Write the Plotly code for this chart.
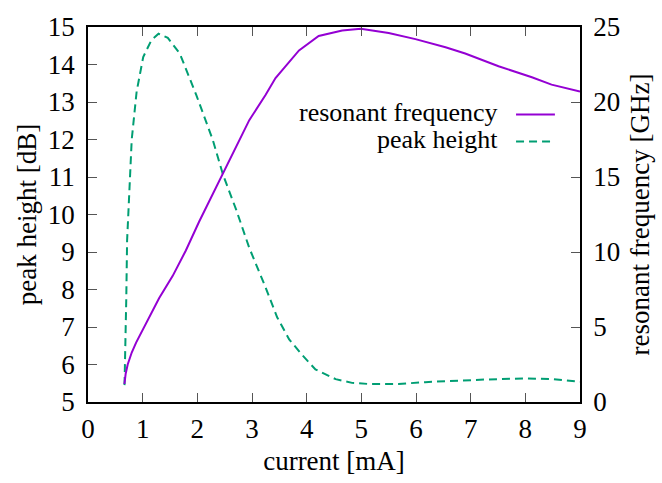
import plotly.graph_objects as go

# peak height [dB] vs current [mA]
ph_current = [0.668, 0.69, 0.70, 0.715, 0.75, 0.80, 0.89, 1.01, 1.16, 1.29, 1.46, 1.68,
              1.98, 2.28, 2.47, 2.71, 2.95, 3.13, 3.25, 3.46, 3.68, 3.92, 4.16, 4.53,
              4.83, 5.14, 5.68, 6.17, 6.66, 7.27, 8.0, 8.48, 9.0]
ph_db = [5.45, 6.8, 7.75, 9.3, 10.4, 12.0, 13.28, 14.2, 14.65, 14.82, 14.71, 14.29,
         13.19, 12.0, 11.06, 10.13, 9.11, 8.5, 8.05, 7.26, 6.67, 6.25, 5.87, 5.61,
         5.51, 5.48, 5.48, 5.53, 5.57, 5.60, 5.63, 5.61, 5.54]

# resonant frequency [GHz] vs current [mA]
rf_current = [0.666, 0.69, 0.726, 0.80, 0.88, 1.06, 1.30, 1.55, 1.79, 2.03, 2.46, 2.95,
              3.25, 3.43, 3.86, 4.22, 4.65, 4.99, 5.50, 5.99, 6.54, 6.90, 7.51, 8.12,
              8.48, 9.0]
rf_ghz = [1.2, 1.9, 2.5, 3.3, 3.96, 5.23, 6.92, 8.41, 10.1, 12.0, 15.18, 18.79,
          20.48, 21.6, 23.44, 24.40, 24.76, 24.89, 24.6, 24.19, 23.65, 23.23, 22.38, 21.65,
          21.16, 20.69]

x_ticks = list(range(0, 10))
y_ticks = list(range(5, 16))
y2_ticks = [0, 5, 10, 15, 20, 25]

PURPLE = "#9400D3"
GREEN = "#009E73"
FONT = "Liberation Serif"
FS = 27

fig = go.Figure()
fig.add_trace(go.Scatter(x=ph_current, y=ph_db, mode="lines", yaxis="y",
                         line=dict(color=GREEN, width=2, dash="8px,5px"),
                         name="peak height", showlegend=False))
fig.add_trace(go.Scatter(x=rf_current, y=rf_ghz, mode="lines", yaxis="y2",
                         line=dict(color=PURPLE, width=2),
                         name="resonant frequency", showlegend=False))

axis_common = dict(showgrid=False, zeroline=False, showline=True, linecolor="black",
                   linewidth=1.5, ticks="inside", ticklen=9, tickwidth=1.2,
                   tickcolor="#555555", tickfont=dict(family=FONT, size=FS, color="black"))

fig.update_layout(
    width=662, height=483,
    margin=dict(l=88, r=80, t=16, b=75),
    paper_bgcolor="white", plot_bgcolor="white",
    font=dict(family=FONT, size=FS, color="black"),
    xaxis=dict(range=[0, 9], tickvals=x_ticks, mirror="ticks",
               title=dict(text="current [mA]", font=dict(family=FONT, size=FS), standoff=8),
               ticklabelstandoff=2, **axis_common),
    yaxis=dict(range=[5, 15], tickvals=y_ticks, mirror=False,
               title=dict(text="peak height [dB]", font=dict(family=FONT, size=FS), standoff=3),
               ticklabelstandoff=6, **axis_common),
    yaxis2=dict(range=[0, 25], tickvals=y2_ticks, overlaying="y", side="right",
                title=dict(text="resonant frequency [GHz]", font=dict(family=FONT, size=FS), standoff=11),
                ticklabelstandoff=6, **axis_common),
)

# legend (text right-aligned, sample to the right, like gnuplot)
legend_items = [("resonant frequency", PURPLE, "solid", 0.772),
                ("peak height", GREEN, "8px,5px", 0.700)]
for label, col, dash, yy in legend_items:
    fig.add_annotation(x=0.838, y=yy, xref="paper", yref="paper", text=label,
                       showarrow=False, xanchor="right", yanchor="middle",
                       font=dict(family=FONT, size=26, color="black"))
    fig.add_shape(type="line", xref="paper", yref="paper", x0=0.870, x1=0.949,
                  y0=yy - 0.005, y1=yy - 0.005, line=dict(color=col, width=2, dash=dash))

fig.write_html("out.html")
